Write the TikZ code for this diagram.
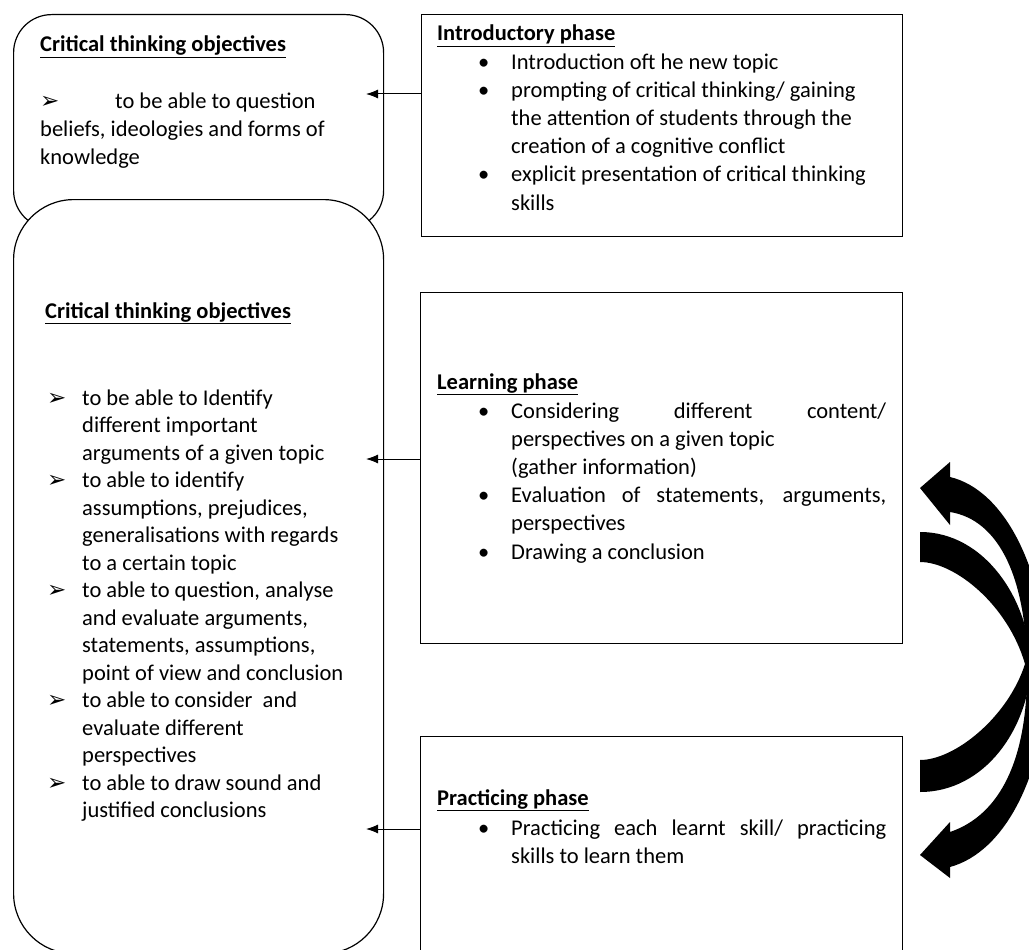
\documentclass[tikz,border=0pt]{standalone}
\usepackage{fontspec}
\setmainfont{Carlito}
\newfontfamily\symfont{DejaVu Sans}
\usetikzlibrary{arrows.meta}
\newcommand{\arr}{{\symfont\fontsize{23}{23}\selectfont\char"27A2}}

\begin{document}
\begin{tikzpicture}[x=1pt,y=-1pt,
  box/.style={draw, line width=1.2pt, inner sep=0pt, anchor=north west},
  objbox/.style={box, fill=white, rounded corners=#1},
  txt/.style={anchor=base west, inner sep=0pt, font=\fontsize{22.5}{28.2}\selectfont},
  phasehead/.style={txt, font=\fontsize{22.5}{28.2}\selectfont\bfseries},
  link/.style={-{Latex[length=12pt,width=9pt]}, line width=1pt},
  cyclearrow/.style={fill=black}]

\clip (0,0) rectangle (1029,950);
\fill[white] (0,0) rectangle (1029,950);

% objectives
\node[objbox=38pt, minimum width=370pt, minimum height=214pt] (topobj) at (13,14) {};
\node[objbox=60pt, minimum width=370pt, minimum height=754pt] (mainobj) at (13,199) {};

% phases
\node[box, minimum width=481pt, minimum height=222pt] (intro) at (421,14) {};
\node[box, minimum width=482pt, minimum height=351pt] (learn) at (420,292) {};
\node[box, minimum width=482pt, minimum height=300pt] (practice) at (420,736) {};

\node[phasehead] (topobjhead) at (40,52) {\underline{Critical thinking objectives}};
\node[txt] (topobjtext) at (40,108) {\begin{tabular}[t]{@{}l@{}}
  \makebox[75pt][l]{\arr}to be able to question\\
  beliefs, ideologies and forms of\\
  knowledge
\end{tabular}};

\node[phasehead] (mainobjhead) at (45,318) {\underline{Critical thinking objectives}};
\node[txt, font=\fontsize{22.5}{27.5}\selectfont] (mainobjtext) at (47,405) {\begin{tabular}[t]{@{}p{35pt}@{}l@{}}
  \arr & to be able to Identify\\
       & different important\\
       & arguments of a given topic\\
  \arr & to able to identify\\
       & assumptions, prejudices,\\
       & generalisations with regards\\
       & to a certain topic\\
  \arr & to able to question, analyse\\
       & and evaluate arguments,\\
       & statements, assumptions,\\
       & point of view and conclusion\\
  \arr & to able to consider\ \ and\\
       & evaluate different\\
       & perspectives\\
  \arr & to able to draw sound and\\
       & justified conclusions
\end{tabular}};

\node[phasehead] (introhead) at (437,41) {\underline{Introductory phase}};
\node[txt] (introtext) at (478,69.2) {\begin{tabular}[t]{@{}p{33pt}@{}l@{}}
  \textbullet & Introduction oft he new topic\\
  \textbullet & prompting of critical thinking/ gaining\\
              & the attention of students through the\\
              & creation of a cognitive conflict\\
  \textbullet & explicit presentation of critical thinking\\
              & skills
\end{tabular}};

\node[phasehead] (learnhead) at (437,389) {\underline{Learning phase}};
\node[txt] (learntext) at (478,418) {\begin{tabular}[t]{@{}p{33pt}@{}l@{}}
  \textbullet & \makebox[375pt][s]{Considering different content/}\\
              & perspectives on a given topic\\
              & (gather information)\\
  \textbullet & \makebox[375pt][s]{Evaluation of statements, arguments,}\\
              & perspectives\\
  \textbullet & Drawing a conclusion
\end{tabular}};

\node[phasehead] (practicehead) at (437,805) {\underline{Practicing phase}};
\node[txt] (practicetext) at (478,835) {\begin{tabular}[t]{@{}p{33pt}@{}l@{}}
  \textbullet & \makebox[375pt][s]{Practicing each learnt skill/ practicing}\\
              & skills to learn them
\end{tabular}};

% connectors
\coordinate (tipA) at (366,94);
\coordinate (tipB) at (366,459);
\coordinate (tipC) at (366,829);
\draw[link] (intro.west |- tipA) -- (tipA);
\draw[link] (learn.west |- tipB) -- (tipB);
\draw[link] (practice.west |- tipC) -- (tipC);

% cycle arrows on the right
\fill[cyclearrow] (920,532) .. controls (985,532) and (1029,600) .. (1031,664)
  .. controls (1029,728) and (985,792) .. (920,792) -- (920,760)
  .. controls (955,760) and (1008,717) .. (1025,664)
  .. controls (1008,605) and (955,562) .. (920,562) -- cycle;
\fill[cyclearrow] (920,488) -- (950,462) -- (950,477)
  .. controls (1005,490) and (1045,570) .. (1048,672) -- (1027,672)
  .. controls (1027,580) and (1000,520) .. (950,512) -- (950,525) -- cycle;
\fill[cyclearrow] (920,855) -- (950,878) -- (950,867)
  .. controls (1005,852) and (1045,775) .. (1048,672) -- (1027,672)
  .. controls (1027,760) and (1000,815) .. (950,832) -- (950,822) -- cycle;
\end{tikzpicture}
\end{document}
